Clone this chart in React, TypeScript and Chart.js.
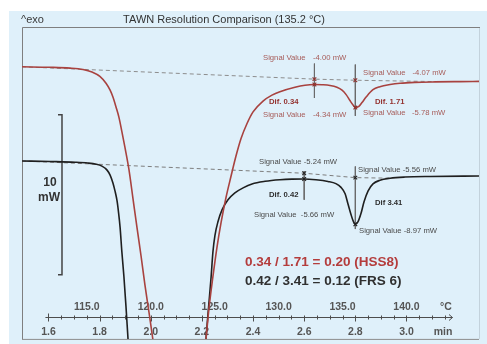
import { useEffect, useRef } from "react";
import { Chart, registerables } from "chart.js";

Chart.register(...registerables);

// Time axis range (min) and the two signal axes (mW)
const TIME_MIN = 1.4964;
const TIME_MAX = 3.2836;
const HSS_MIN = -20.247;
const HSS_MAX = -0.802;
const FRS_MIN = -17.332;
const FRS_MAX = 5.362;

// HSS8 DSC curve
const hssTime = [1.496, 1.606, 1.684, 1.735, 1.77, 1.801, 1.825, 1.841, 1.852, 1.864, 1.876, 1.887, 1.899, 1.915, 1.93, 1.946, 1.962, 1.977, 1.993, 2.009, 2.024, 2.114, 2.204, 2.216, 2.228, 2.243, 2.259, 2.275, 2.294, 2.314, 2.333, 2.353, 2.376, 2.4, 2.439, 2.474, 2.505, 2.564, 2.603, 2.64, 2.67, 2.701, 2.728, 2.748, 2.764, 2.779, 2.791, 2.8, 2.814, 2.826, 2.842, 2.869, 2.896, 2.936, 2.975, 3.033, 3.112, 3.209, 3.288];
const hssSignal = [-3.228, -3.259, -3.309, -3.395, -3.549, -3.827, -4.259, -4.691, -5.123, -5.741, -6.42, -7.284, -8.272, -9.691, -11.42, -13.272, -15.062, -16.852, -18.58, -20.37, -22.222, -40, -22.222, -20.247, -18.272, -16.358, -14.506, -12.963, -11.42, -10.062, -8.827, -7.716, -6.79, -6.049, -5.37, -5.0, -4.784, -4.506, -4.383, -4.34, -4.352, -4.395, -4.506, -4.691, -4.969, -5.34, -5.617, -5.78, -5.698, -5.463, -5.123, -4.66, -4.475, -4.34, -4.259, -4.204, -4.173, -4.154, -4.142];

// FRS 6 DSC curve
const frsTime = [1.496, 1.606, 1.704, 1.754, 1.786, 1.809, 1.829, 1.841, 1.852, 1.86, 1.868, 1.874, 1.88, 1.887, 1.895, 1.903, 1.911, 1.919, 2.06, 2.208, 2.216, 2.226, 2.236, 2.243, 2.251, 2.263, 2.279, 2.302, 2.329, 2.361, 2.396, 2.447, 2.505, 2.552, 2.6, 2.646, 2.693, 2.724, 2.744, 2.76, 2.771, 2.783, 2.793, 2.8, 2.81, 2.822, 2.834, 2.85, 2.869, 2.896, 2.936, 2.994, 3.092, 3.288];
const frsSignal = [-4.342, -4.385, -4.436, -4.494, -4.58, -4.724, -5.012, -5.373, -5.949, -6.525, -7.246, -8.11, -9.191, -10.992, -12.793, -14.955, -17.332, -19.637, -40, -19.637, -17.332, -15.027, -12.793, -10.992, -9.767, -8.759, -7.894, -7.174, -6.669, -6.309, -6.021, -5.826, -5.711, -5.668, -5.66, -5.718, -5.841, -5.999, -6.273, -6.741, -7.462, -8.254, -8.795, -8.97, -8.795, -8.182, -7.318, -6.525, -6.021, -5.754, -5.603, -5.517, -5.473, -5.445];

// Interpolated baselines
const hssBaseTime = [1.496, 2.64, 2.8, 3.1];
const hssBaseSignal = [-3.228, -4.0, -4.07, -4.15];
const frsBaseTime = [1.496, 2.6, 2.8, 2.93];
const frsBaseSignal = [-4.342, -5.24, -5.56, -5.6];

// Evaluated signal values (baseline, curve) at the two cursors
const hssEvalTime = [2.64, 2.64, 2.8, 2.8];
const hssEvalSignal = [-4.0, -4.34, -4.07, -5.78];
const frsEvalTime = [2.6, 2.6, 2.8, 2.8];
const frsEvalSignal = [-5.24, -5.66, -5.56, -8.97];

// Cursor lines
const hssCursorTime = [2.64, 2.8];
const hssCursorTop = [-3.03, -3.09];
const hssCursorBottom = [-5.18, -6.3];
const frsCursorTime = [2.6, 2.8];
const frsCursorTop = [-5.084, -4.746];
const frsCursorBottom = [-7.174, -9.313];

// 10 mW scale bar (HSS8 signal units)
const scaleBarTime = [1.6372, 1.6528];
const scaleBarTop = -6.235;
const scaleBarSpan = 10;

// Axis ticks
const timeTicks = [1.6, 1.8, 2.0, 2.2, 2.4, 2.6, 2.8, 3.0];
const tempTicks = [115, 120, 125, 130, 135, 140];
const AXIS_START = 1.588;
const AXIS_END = 3.18;
// heating program: T = 80 °C + 20 K/min * t
const tempToTime = (T: number) => (T - 80) / 20;

const FONT = '"Liberation Sans", Arial, Helvetica, sans-serif';

const xy = (xs: number[], ys: number[]) => xs.map((x, i) => ({ x, y: ys[i] }));

const panelPlugin = {
  id: "panel",
  beforeDraw(chart: any) {
    const { ctx, width, height } = chart;
    ctx.save();
    ctx.fillStyle = "#ffffff";
    ctx.fillRect(0, 0, width, height);
    ctx.fillStyle = "#dff0fa";
    ctx.fillRect(9, 11, width - 9, height - 11);
    ctx.restore();
  },
  beforeDatasetsDraw(chart: any) {
    const { ctx, chartArea: a, scales } = chart;
    const x = scales.x;
    ctx.save();
    // frame
    ctx.lineWidth = 1;
    ctx.strokeStyle = "#c3d2dc";
    ctx.beginPath();
    ctx.moveTo(a.right + 0.5, a.top);
    ctx.lineTo(a.right + 0.5, a.bottom);
    ctx.stroke();
    ctx.strokeStyle = "#7f7f7f";
    ctx.beginPath();
    ctx.moveTo(a.left + 0.5, a.bottom + 0.5);
    ctx.lineTo(a.left + 0.5, a.top - 0.5);
    ctx.lineTo(a.right + 1, a.top - 0.5);
    ctx.stroke();
    ctx.strokeStyle = "#8c8c8c";
    ctx.beginPath();
    ctx.moveTo(a.left, a.bottom + 0.5);
    ctx.lineTo(a.right, a.bottom + 0.5);
    ctx.stroke();

    // combined time / temperature axis inside the plot
    const yA = Math.round(a.bottom - 22) + 0.5;
    const x0 = x.getPixelForValue(AXIS_START);
    const x1 = x.getPixelForValue(AXIS_END);
    ctx.strokeStyle = "#4d4d4d";
    ctx.lineWidth = 1;
    ctx.beginPath();
    ctx.moveTo(x0, yA);
    ctx.lineTo(x1, yA);
    ctx.moveTo(x1 - 3.5, yA - 3);
    ctx.lineTo(x1, yA);
    ctx.lineTo(x1 - 3.5, yA + 3);
    ctx.stroke();
    for (let i = 0; i <= 31; i++) {
      const t = 1.6 + i * 0.05;
      const px = Math.round(x.getPixelForValue(t)) + 0.5;
      const majorTime = i % 4 === 0;
      const majorTemp = (i + 1) % 5 === 0 || i === 0 ? (i - 3) % 5 === 0 : false;
      const up = majorTemp || i === 0 ? 4 : 2;
      const down = majorTime ? 4 : 2;
      ctx.beginPath();
      ctx.moveTo(px, yA - up);
      ctx.lineTo(px, yA + down);
      ctx.stroke();
    }
    ctx.fillStyle = "#555555";
    ctx.font = `bold 10.5px ${FONT}`;
    ctx.textAlign = "center";
    ctx.textBaseline = "middle";
    tempTicks.forEach((T) => {
      ctx.fillText(T.toFixed(1), x.getPixelForValue(tempToTime(T)), yA - 10.5);
    });
    timeTicks.forEach((t) => {
      ctx.fillText(t.toFixed(1), x.getPixelForValue(t), yA + 14.5);
    });
    ctx.fillText("°C", 446, yA - 10.5);
    ctx.fillText("min", 443, yA + 14.5);
    ctx.restore();
  },
};

type Note = { text: string; x: number; y: number; color: string; font: string; align?: CanvasTextAlign };

const small = `7.7px ${FONT}`;
const smallBold = `bold 7.7px ${FONT}`;
const HSS_TXT = "#a65b58";
const HSS_DIF = "#93302d";
const FRS_TXT = "#4a4a4a";
const FRS_DIF = "#2e2e2e";

const notes: Note[] = [
  { text: "^exo", x: 21, y: 20, color: "#3a3a3a", font: `11px ${FONT}` },
  { text: "TAWN Resolution Comparison (135.2 °C)", x: 224, y: 20, color: "#333333", font: `11px ${FONT}`, align: "center" },
  { text: "10", x: 50, y: 182.5, color: "#333333", font: `bold 12px ${FONT}`, align: "center" },
  { text: "mW", x: 49, y: 197.5, color: "#333333", font: `bold 12px ${FONT}`, align: "center" },
  { text: "Signal Value", x: 263, y: 57.5, color: HSS_TXT, font: small },
  { text: "-4.00 mW", x: 313, y: 57.5, color: HSS_TXT, font: small },
  { text: "Signal Value", x: 363, y: 72.5, color: HSS_TXT, font: small },
  { text: "-4.07 mW", x: 412.5, y: 72.5, color: HSS_TXT, font: small },
  { text: "Dif. 0.34", x: 269, y: 101.5, color: HSS_DIF, font: smallBold },
  { text: "Dif. 1.71", x: 375, y: 101.5, color: HSS_DIF, font: smallBold },
  { text: "Signal Value", x: 263, y: 115, color: HSS_TXT, font: small },
  { text: "-4.34 mW", x: 313, y: 115, color: HSS_TXT, font: small },
  { text: "Signal Value", x: 363, y: 112.5, color: HSS_TXT, font: small },
  { text: "-5.78 mW", x: 412, y: 112.5, color: HSS_TXT, font: small },
  { text: "Signal Value -5.24 mW", x: 259, y: 161.5, color: FRS_TXT, font: small },
  { text: "Signal Value -5.56 mW", x: 358, y: 170, color: FRS_TXT, font: small },
  { text: "Dif. 0.42", x: 269, y: 195, color: FRS_DIF, font: smallBold },
  { text: "Dif 3.41", x: 375, y: 202.5, color: FRS_DIF, font: smallBold },
  { text: "Signal Value  -5.66 mW", x: 254, y: 215, color: FRS_TXT, font: small },
  { text: "Signal Value -8.97 mW", x: 359, y: 231, color: FRS_TXT, font: small },
  { text: "0.34 / 1.71 = 0.20 (HSS8)", x: 245, y: 262, color: "#b43c3c", font: `bold 13.5px ${FONT}` },
  { text: "0.42 / 3.41 = 0.12 (FRS 6)", x: 245, y: 281, color: "#303030", font: `bold 13.5px ${FONT}` },
];

const notesPlugin = {
  id: "notes",
  afterDatasetsDraw(chart: any) {
    const { ctx } = chart;
    ctx.save();
    ctx.textBaseline = "middle";
    notes.forEach((n) => {
      ctx.font = n.font;
      ctx.fillStyle = n.color;
      ctx.textAlign = n.align || "left";
      ctx.fillText(n.text, n.x, n.y);
    });
    ctx.restore();
  },
};

export default function App() {
  const ref = useRef<HTMLCanvasElement | null>(null);

  useEffect(() => {
    if (!ref.current) return;

    const markerSet = (xs: number[], ys: number[], axis: string, color: string) => ({
      data: xy(xs, ys),
      yAxisID: axis,
      showLine: false,
      pointStyle: "crossRot" as const,
      pointRadius: 2.6,
      pointBorderWidth: 1.1,
      pointBorderColor: color,
      borderColor: color,
    });
    const cursorSets = (ts: number[], tops: number[], bottoms: number[], axis: string) =>
      ts.map((t, i) => ({
        data: [
          { x: t, y: tops[i] },
          { x: t, y: bottoms[i] },
        ],
        yAxisID: axis,
        borderColor: "#6a6a6a",
        borderWidth: 1,
        pointRadius: 0,
      }));

    const datasets: any[] = [
      markerSet(hssEvalTime, hssEvalSignal, "yHss", "#8e2f2c"),
      markerSet(frsEvalTime, frsEvalSignal, "yFrs", "#222222"),
      {
        label: "HSS8",
        data: xy(hssTime, hssSignal),
        yAxisID: "yHss",
        borderColor: "#a8423f",
        borderWidth: 1.6,
        pointRadius: 0,
        cubicInterpolationMode: "monotone",
      },
      {
        label: "FRS 6",
        data: xy(frsTime, frsSignal),
        yAxisID: "yFrs",
        borderColor: "#1f1f1f",
        borderWidth: 1.6,
        pointRadius: 0,
        cubicInterpolationMode: "monotone",
      },
      {
        data: xy(hssBaseTime, hssBaseSignal),
        yAxisID: "yHss",
        borderColor: "#8d8d8d",
        borderWidth: 1,
        borderDash: [4, 3],
        pointRadius: 0,
      },
      {
        data: xy(frsBaseTime, frsBaseSignal),
        yAxisID: "yFrs",
        borderColor: "#7d7d7d",
        borderWidth: 1,
        borderDash: [4, 3],
        pointRadius: 0,
      },
      ...cursorSets(hssCursorTime, hssCursorTop, hssCursorBottom, "yHss"),
      ...cursorSets(frsCursorTime, frsCursorTop, frsCursorBottom, "yFrs"),
      {
        data: [
          { x: scaleBarTime[0], y: scaleBarTop },
          { x: scaleBarTime[1], y: scaleBarTop },
          { x: scaleBarTime[1], y: scaleBarTop - scaleBarSpan },
          { x: scaleBarTime[0], y: scaleBarTop - scaleBarSpan },
        ],
        yAxisID: "yHss",
        borderColor: "#444444",
        borderWidth: 1.5,
        pointRadius: 0,
      },
    ];

    const chart = new Chart(ref.current, {
      type: "line",
      data: { datasets },
      options: {
        animation: false,
        responsive: false,
        maintainAspectRatio: false,
        events: [],
        layout: { padding: { left: 22, top: 28, right: 8, bottom: 1 } },
        plugins: {
          legend: { display: false },
          tooltip: { enabled: false },
          title: { display: false },
        },
        scales: {
          x: { type: "linear", min: TIME_MIN, max: TIME_MAX, display: false },
          yHss: { type: "linear", min: HSS_MIN, max: HSS_MAX, display: false },
          yFrs: { type: "linear", min: FRS_MIN, max: FRS_MAX, display: false },
        },
      },
      plugins: [panelPlugin, notesPlugin],
    });

    return () => chart.destroy();
  }, []);

  return (
    <div style={{ position: "absolute", left: 0, top: 0, width: 487, height: 344, background: "#ffffff" }}>
      <canvas ref={ref} width={487} height={344} style={{ display: "block" }} />
    </div>
  );
}
